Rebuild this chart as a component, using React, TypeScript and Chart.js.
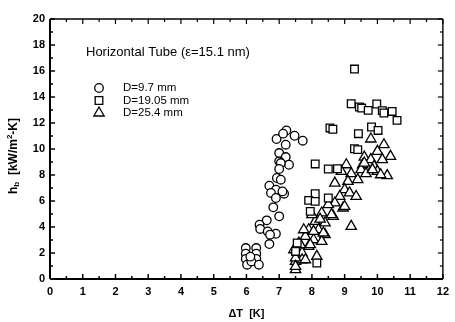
import React, { useEffect, useRef } from "react";
import { Chart, registerables } from "chart.js";

Chart.register(...registerables);

// ---- data ----
const circleX = [7.22, 6.92, 7.12, 7.47, 7.72, 7.2, 7.0, 7.2, 7.3, 7.0, 7.05, 7.0, 6.93, 7.05, 6.7, 6.9, 7.15, 6.75, 7.1, 6.9, 6.82, 7.0, 6.62, 6.4, 6.42, 6.65, 6.9, 6.72, 6.7, 5.98, 5.98, 5.98, 6.02, 6.3, 6.3, 6.3, 6.15, 6.38, 6.12];
const circleY = [11.43, 10.77, 11.18, 11.02, 10.64, 10.33, 9.69, 9.38, 8.79, 9.05, 8.92, 8.46, 7.77, 7.64, 7.18, 6.87, 6.56, 6.62, 6.74, 6.23, 5.51, 4.82, 4.51, 4.18, 3.85, 3.66, 3.48, 3.41, 2.69, 2.38, 1.95, 1.54, 1.1, 2.38, 1.95, 1.54, 1.35, 1.1, 1.72];

const squareX = [9.3, 9.2, 9.45, 9.52, 9.72, 9.98, 10.15, 10.2, 10.45, 10.6, 9.82, 10.02, 9.42, 8.55, 8.64, 9.3, 9.4, 8.1, 8.5, 8.78, 8.1, 7.9, 8.1, 8.5, 7.95, 7.55, 7.5, 8.15];
const squareY = [16.15, 13.48, 13.23, 13.15, 12.97, 13.46, 12.95, 12.77, 12.89, 12.2, 11.69, 11.43, 11.18, 11.62, 11.52, 10.02, 9.95, 8.85, 8.46, 8.48, 6.56, 6.05, 5.97, 6.23, 5.2, 2.77, 2.12, 1.23];

const triangleX = [9.8, 10.2, 10.0, 10.4, 9.6, 9.8, 10.15, 9.55, 9.9, 10.0, 10.3, 10.1, 9.05, 9.5, 9.65, 9.2, 9.4, 8.9, 8.7, 9.1, 9.0, 9.15, 9.35, 8.85, 8.7, 8.95, 8.5, 8.3, 8.65, 8.1, 8.4, 9.2, 7.9, 8.2, 8.4, 7.8, 8.05, 8.3, 7.6, 7.9, 7.45, 7.7, 8.15, 7.5, 7.7, 7.5, 9.6, 9.85, 8.0, 8.6, 9.0, 7.75, 8.05, 8.35, 7.65, 7.95, 7.5, 7.8, 7.5, 8.25];
const triangleY = [10.77, 10.33, 9.82, 9.43, 9.38, 9.18, 9.18, 8.79, 8.66, 8.28, 7.95, 8.02, 8.79, 8.41, 8.1, 8.1, 7.64, 8.28, 7.38, 7.51, 6.87, 6.62, 6.35, 6.35, 5.85, 5.46, 5.72, 5.08, 4.82, 4.43, 4.31, 4.05, 3.79, 3.79, 3.41, 3.28, 3.02, 2.89, 2.77, 2.51, 2.25, 2.0, 1.74, 1.35, 1.48, 0.72, 8.92, 8.41, 4.95, 4.95, 5.58, 3.79, 3.66, 3.54, 2.64, 2.64, 1.62, 1.48, 0.97, 4.6];

const seriesNames = ["D=9.7 mm", "D=19.05 mm", "D=25.4 mm"];
const legendTitle = "Horizontal Tube (\u03B5=15.1 nm)";
const xMin = 0, xMax = 12, xStep = 1;
const yMin = 0, yMax = 20, yStep = 2;
const xTitle = "\u0394T  [K]";

const FONT = "'Liberation Sans', Arial, Helvetica, sans-serif";

const toPoints = (xs: number[], ys: number[]) => xs.map((x, i) => ({ x, y: ys[i] }));

function drawMarker(ctx: CanvasRenderingContext2D, style: string, x: number, y: number) {
  ctx.beginPath();
  if (style === "circle") {
    ctx.arc(x, y, 4.3, 0, Math.PI * 2);
  } else if (style === "rect") {
    ctx.rect(x - 3.8, y - 3.8, 7.6, 7.6);
  } else {
    const r = 6;
    ctx.moveTo(x, y - r);
    ctx.lineTo(x + r * Math.sin((2 * Math.PI) / 3), y - r * Math.cos((2 * Math.PI) / 3));
    ctx.lineTo(x + r * Math.sin((4 * Math.PI) / 3), y - r * Math.cos((4 * Math.PI) / 3));
    ctx.closePath();
  }
  ctx.fillStyle = "#fff";
  ctx.fill();
  ctx.lineWidth = 1.3;
  ctx.strokeStyle = "#000";
  ctx.stroke();
}

const framePlugin = {
  id: "frameTicks",
  beforeDatasetsDraw(chart: any) {
    const { ctx, chartArea } = chart;
    const { left, right, top, bottom } = chartArea;
    const xs = chart.scales.x;
    const ys = chart.scales.y;
    ctx.save();
    ctx.strokeStyle = "#000";
    const line = (x1: number, y1: number, x2: number, y2: number, w: number) => {
      ctx.lineWidth = w;
      ctx.beginPath();
      ctx.moveTo(x1, y1);
      ctx.lineTo(x2, y2);
      ctx.stroke();
    };
    for (let v = xMin; v <= xMax + 1e-9; v += xStep / 2) {
      const px = xs.getPixelForValue(v);
      const major = Math.abs(v - Math.round(v)) < 1e-6;
      const len = major ? 5 : 3;
      line(px, bottom, px, bottom - len, 1.5);
      line(px, top, px, top + len, 1.2);
    }
    for (let v = yMin; v <= yMax + 1e-9; v += yStep / 2) {
      const py = ys.getPixelForValue(v);
      const major = Math.round(v) % yStep === 0;
      const len = major ? 5 : 3;
      line(left, py, left + len, py, 1.5);
      line(right, py, right - len, py, 1.2);
    }
    line(left, top, right, top, 1.4);
    line(right, top, right, bottom, 1.4);
    line(left, top, left, bottom, 2);
    line(left, bottom, right, bottom, 2);
    ctx.restore();
  },
  afterDraw(chart: any) {
    const { ctx, chartArea } = chart;
    ctx.save();
    ctx.fillStyle = "#000";
    ctx.textBaseline = "middle";
    ctx.textAlign = "left";
    ctx.font = `13px ${FONT}`;
    ctx.fillText(legendTitle, 86, 52);
    ctx.font = `11.5px ${FONT}`;
    const styles = ["circle", "rect", "triangle"];
    const ly = [88, 100.5, 113];
    styles.forEach((s, i) => {
      drawMarker(ctx, s, 99, ly[i]);
      ctx.fillStyle = "#000";
      ctx.fillText(seriesNames[i], 123, ly[i]);
    });
    ctx.textAlign = "center";
    ctx.font = `bold 11px ${FONT}`;
    ctx.fillText(xTitle, (chartArea.left + chartArea.right) / 2, 314);
    ctx.translate(14, 156);
    ctx.rotate(-Math.PI / 2);
    const parts: [string, number, number][] = [
      ["h", 12, 0],
      ["b", 8, 3],
      ["  [kW/m", 12, 0],
      ["2", 8, -4],
      ["-K]", 12, 0],
    ];
    let total = 0;
    parts.forEach(([t, size]) => {
      ctx.font = `bold ${size}px ${FONT}`;
      total += ctx.measureText(t).width;
    });
    let cx = -total / 2;
    ctx.textAlign = "left";
    parts.forEach(([t, size, dy]) => {
      ctx.font = `bold ${size}px ${FONT}`;
      ctx.fillText(t, cx, dy);
      cx += ctx.measureText(t).width;
    });
    ctx.restore();
  },
};

export default function App() {
  const canvasRef = useRef<HTMLCanvasElement | null>(null);

  useEffect(() => {
    document.body.style.margin = "0";
    const canvas = canvasRef.current;
    if (!canvas) return;
    const common = {
      backgroundColor: "#ffffff",
      borderColor: "#000000",
      borderWidth: 1.3,
      showLine: false,
    };
    const chart = new Chart(canvas, {
      type: "scatter",
      data: {
        datasets: [
          { ...common, label: seriesNames[0], data: toPoints(circleX, circleY), pointStyle: "circle", pointRadius: 4.3 },
          { ...common, label: seriesNames[1], data: toPoints(squareX, squareY), pointStyle: "rect", pointRadius: 5.4 },
          { ...common, label: seriesNames[2], data: toPoints(triangleX, triangleY), pointStyle: "triangle", pointRadius: 6 },
        ],
      },
      options: {
        responsive: false,
        animation: false,
        devicePixelRatio: 1,
        layout: { padding: { top: 19, right: 6, left: 0, bottom: 0 } },
        plugins: { legend: { display: false }, tooltip: { enabled: false } },
        scales: {
          x: {
            type: "linear",
            min: xMin,
            max: xMax,
            grid: { display: false, drawTicks: false },
            border: { display: false },
            ticks: {
              stepSize: xStep,
              color: "#000",
              padding: 6,
              maxRotation: 0,
              font: { family: FONT, size: 11, weight: "bold" },
            },
            afterFit: (s: any) => {
              s.height = 43;
            },
          },
          y: {
            type: "linear",
            min: yMin,
            max: yMax,
            grid: { display: false, drawTicks: false },
            border: { display: false },
            ticks: {
              stepSize: yStep,
              color: "#000",
              padding: 5,
              font: { family: FONT, size: 11, weight: "bold" },
            },
            afterFit: (s: any) => {
              s.width = 50;
            },
          },
        },
      },
      plugins: [framePlugin],
    } as any);
    return () => chart.destroy();
  }, []);

  return <canvas ref={canvasRef} width={455} height={322} style={{ display: "block" }} />;
}
